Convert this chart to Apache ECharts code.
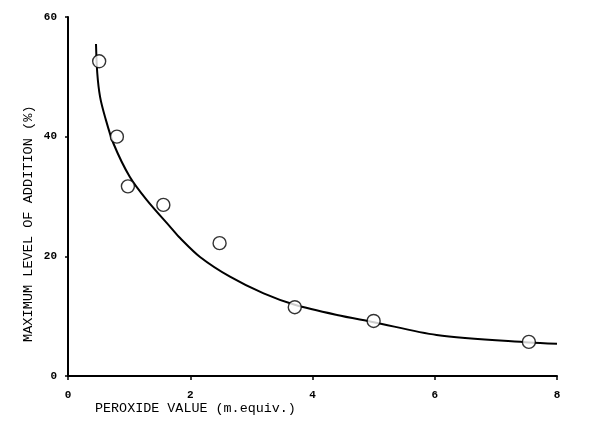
<!DOCTYPE html>
<html><head><meta charset="utf-8">
<script src="https://cdn.jsdelivr.net/npm/echarts@6/dist/echarts.min.js"></script>
<style>html,body{margin:0;padding:0;background:#fff}#c{width:600px;height:431px}</style>
</head><body><div id="c"></div>
<script>
// Measured points
const peroxideX = [0.51, 0.80, 0.98, 1.56, 2.48, 3.71, 5.00, 7.54];
const levelY = [52.6, 40.0, 31.7, 28.6, 22.2, 11.5, 9.2, 5.7];
// Fitted curve
const curveX = [0.458, 0.479, 0.524, 0.606, 0.742, 1.01, 1.29, 1.70, 1.83, 2.16, 2.65, 3.20, 3.71, 4.40, 5.00, 6.03, 7.54, 8.00];
const curveY = [55.5, 50.6, 46.7, 43.3, 38.9, 33.3, 29.4, 24.6, 23.1, 19.9, 16.6, 13.8, 11.9, 10.2, 9.0, 6.86, 5.6, 5.4];
const xTicks = [0, 2, 4, 6, 8];
const yTicks = [0, 20, 40, 60];
const xTitle = 'PEROXIDE VALUE (m.equiv.)';
const yTitle = 'MAXIMUM LEVEL OF ADDITION (%)';

const font = '"Liberation Mono", "DejaVu Sans Mono", monospace';
const chart = echarts.init(document.getElementById('c'), null, {renderer: 'canvas'});
chart.setOption({
  backgroundColor: '#fff',
  animation: false,
  grid: {left: 68, right: 43, top: 17, bottom: 55},
  xAxis: {
    type: 'value', min: xTicks[0], max: xTicks[xTicks.length - 1], interval: 2,
    axisLine: {lineStyle: {color: '#000', width: 2}},
    axisTick: {length: 4, lineStyle: {color: '#000', width: 1.5}},
    axisLabel: {color: '#000', fontFamily: font, fontSize: 11, fontWeight: 'bold', margin: 14},
    splitLine: {show: false}
  },
  yAxis: {
    type: 'value', min: yTicks[0], max: yTicks[yTicks.length - 1], interval: 20,
    axisLine: {lineStyle: {color: '#000', width: 2}},
    axisTick: {length: 3, lineStyle: {color: '#000', width: 1.5}},
    axisLabel: {color: '#000', fontFamily: font, fontSize: 11, fontWeight: 'bold', margin: 11},
    splitLine: {show: false}
  },
  graphic: [
    {type: 'text', left: 95, top: 402, style: {text: xTitle, font: '13.4px ' + font, fill: '#000'}},
    {type: 'text', x: 21, y: 342, rotation: Math.PI / 2, style: {text: yTitle, font: '13.6px ' + font, fill: '#000'}}
  ],
  series: [
    {
      type: 'line', data: curveX.map((x, i) => [x, curveY[i]]), smooth: 0.3, showSymbol: false,
      lineStyle: {color: '#000', width: 2}, z: 2
    },
    {
      type: 'scatter', data: peroxideX.map((x, i) => [x, levelY[i]]), symbol: 'circle', symbolSize: 13,
      itemStyle: {color: '#fff', borderColor: '#000', borderWidth: 1.4}, z: 3
    }
  ]
});
</script></body></html>
